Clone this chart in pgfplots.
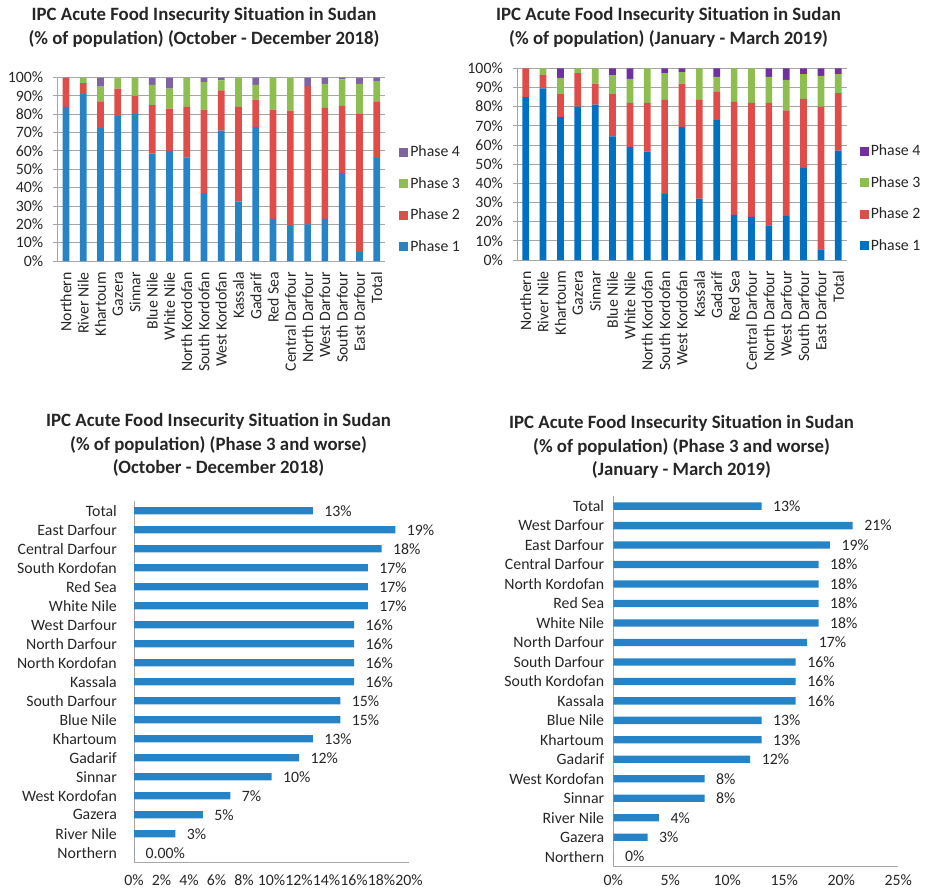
\documentclass[border=0pt]{standalone}
\usepackage{fontspec}
\setmainfont{Carlito}
\usepackage{pgfplots}
\pgfplotsset{compat=1.18}

\definecolor{pone}{HTML}{2683C6}
\definecolor{ponedark}{HTML}{0070C0}
\definecolor{ptwo}{HTML}{DF4D4B}
\definecolor{pthree}{HTML}{8FBE50}
\definecolor{pfour}{HTML}{8064A2}
\definecolor{pfourdark}{HTML}{7030A0}
\definecolor{gridgray}{HTML}{A6A6A6}
\definecolor{txt}{HTML}{262626}

\newcommand{\lblfont}{\fontsize{15.8bp}{19bp}\selectfont}
\newcommand{\ttlfont}{\bfseries\fontsize{18.8bp}{23.3bp}\selectfont}

\pgfplotsset{
  stackaxis/.style={
    anchor=south west, scale only axis,
    ybar stacked, bar width=6.7bp,
    xmin=-0.5, xmax=18.5, ymin=0, ymax=100, enlargelimits=false,
    xtick={0,...,18},
    xticklabels={Northern,River Nile,Khartoum,Gazera,Sinnar,Blue Nile,White Nile,North Kordofan,South Kordofan,West Kordofan,Kassala,Gadarif,Red Sea,Central Darfour,North Darfour,West Darfour,South Darfour,East Darfour,Total},
    ytick={0,10,...,100},
    yticklabels={0\%,10\%,20\%,30\%,40\%,50\%,60\%,70\%,80\%,90\%,100\%},
    axis lines*=left,
    axis line style={gridgray, line width=0.9bp},
    ymajorgrids, grid style={gridgray, line width=0.9bp},
    tick align=outside, major tick length=4bp,
    xtick style={draw=none}, ytick style={gridgray, line width=0.9bp},
    tick label style={font=\lblfont, text=txt},
    xticklabel style={rotate=90, anchor=east, inner sep=0pt},
    yticklabel style={inner sep=0pt},
    xticklabel shift=7bp, yticklabel shift=10bp,
    reverse legend, legend cell align=left,
    legend style={draw=none, fill=none, font=\lblfont, text=txt, row sep=15bp, anchor=west},
    legend image code/.code={\fill[##1] (0bp,-4.5bp) rectangle (9bp,4.5bp);},
  },
  hbaraxis/.style={
    anchor=south west, scale only axis,
    xbar, bar width=7.3bp,
    ymin=-0.5, ymax=18.5, xmin=0, enlargelimits=false,
    ytick={0,...,18},
    axis lines*=left,
    axis line style={gridgray, line width=1bp},
    major tick length=0pt, tick style={draw=none},
    tick label style={font=\lblfont, text=txt},
    yticklabel style={inner sep=0pt}, xticklabel style={inner sep=0pt},
    point meta=explicit symbolic,
    nodes near coords,
    every node near coord/.append style={font=\lblfont, text=txt, anchor=west, inner sep=0pt, xshift=11.5bp},
  },
}

\begin{document}
\begin{tikzpicture}
\useasboundingbox (0,0) rectangle (925bp,-888bp);

% top left: October - December 2018
\begin{axis}[stackaxis, at={(57.3bp,-261bp)}, width=328bp, height=183.5bp,
  legend style={at={(1.033,0.336)}}]
\addplot[fill=pone, draw=none] coordinates {(0,84) (1,91) (2,72.5) (3,79) (4,80) (5,58.5) (6,60) (7,56.5) (8,37) (9,71) (10,32.5) (11,73) (12,23) (13,19) (14,20) (15,23) (16,48) (17,5) (18,56)};
\addplot[fill=ptwo, draw=none] coordinates {(0,16) (1,6) (2,14.5) (3,15) (4,10) (5,26.5) (6,23) (7,27.5) (8,45.5) (9,22) (10,51.5) (11,15) (12,59.5) (13,63) (14,75.5) (15,60.5) (16,36.5) (17,75.5) (18,31)};
\addplot[fill=pthree, draw=none] coordinates {(0,0) (1,3) (2,8) (3,6) (4,10) (5,11) (6,11) (7,16) (8,15) (9,5.5) (10,16) (11,8) (12,17.5) (13,18) (14,0) (15,13) (16,14.5) (17,16) (18,11)};
\addplot[fill=pfour, draw=none] coordinates {(0,0) (1,0) (2,5) (3,0) (4,0) (5,4) (6,6) (7,0) (8,2.5) (9,1.5) (10,0) (11,4) (12,0) (13,0) (14,4.5) (15,3.5) (16,1) (17,3.5) (18,2)};
\legend{Phase 1,Phase 2,Phase 3,Phase 4}
\end{axis}

% top right: January - March 2019
\begin{axis}[stackaxis, at={(517bp,-260bp)}, width=330bp, height=191.7bp,
  legend style={at={(1.029,0.322)}}]
\addplot[fill=ponedark, draw=none] coordinates {(0,85) (1,89.5) (2,74.5) (3,80) (4,81) (5,64.5) (6,59) (7,56.5) (8,34.5) (9,69.5) (10,32) (11,73) (12,23.5) (13,22.5) (14,18) (15,23) (16,48) (17,5.5) (18,57)};
\addplot[fill=ptwo, draw=none] coordinates {(0,15) (1,7) (2,12) (3,17.5) (4,11) (5,22) (6,23) (7,25.5) (8,49) (9,22.5) (10,51.5) (11,15) (12,59) (13,59.5) (14,64) (15,55) (16,36) (17,74.5) (18,30)};
\addplot[fill=pthree, draw=none] coordinates {(0,0) (1,3.5) (2,8.5) (3,2.5) (4,8) (5,10) (6,12.5) (7,18) (8,14) (9,6) (10,16.5) (11,7.5) (12,17.5) (13,18) (14,13.5) (15,16) (16,13) (17,16) (18,10)};
\addplot[fill=pfourdark, draw=none] coordinates {(0,0) (1,0) (2,5) (3,0) (4,0) (5,3.5) (6,5.5) (7,0) (8,2.5) (9,2) (10,0) (11,4.5) (12,0) (13,0) (14,4.5) (15,6) (16,3) (17,4) (18,3)};
\legend{Phase 1,Phase 2,Phase 3,Phase 4}
\end{axis}

% bottom left: phase 3+, October - December 2018
\begin{axis}[hbaraxis, at={(134bp,-862.2bp)}, width=275bp, height=361bp,
  xmax=20, xtick={0,2,...,20},
  xticklabels={0\%,2\%,4\%,6\%,8\%,10\%,12\%,14\%,16\%,18\%,20\%},
  yticklabels={Northern,River Nile,Gazera,West Kordofan,Sinnar,Gadarif,Khartoum,Blue Nile,South Darfour,Kassala,North Kordofan,North Darfour,West Darfour,White Nile,Red Sea,South Kordofan,Central Darfour,East Darfour,Total},
  yticklabel shift=17bp, xticklabel shift=12bp]
\addplot[fill=pone, draw=none] coordinates {
  (0,0) [0.00\%] (3,1) [3\%] (5,2) [5\%] (7,3) [7\%] (10,4) [10\%] (12,5) [12\%]
  (13,6) [13\%] (15,7) [15\%] (15,8) [15\%] (16,9) [16\%] (16,10) [16\%]
  (16,11) [16\%] (16,12) [16\%] (17,13) [17\%] (17,14) [17\%] (17,15) [17\%]
  (18,16) [18\%] (19,17) [19\%] (13,18) [13\%]};
\end{axis}

% bottom right: phase 3+, January - March 2019
\begin{axis}[hbaraxis, at={(613.3bp,-866.4bp)}, width=285bp, height=370bp,
  xmax=25, xtick={0,5,...,25},
  xticklabels={0\%,5\%,10\%,15\%,20\%,25\%},
  yticklabels={Northern,Gazera,River Nile,Sinnar,West Kordofan,Gadarif,Khartoum,Blue Nile,Kassala,South Kordofan,South Darfour,North Darfour,White Nile,Red Sea,North Kordofan,Central Darfour,East Darfour,West Darfour,Total},
  yticklabel shift=9bp, xticklabel shift=8bp]
\addplot[fill=pone, draw=none] coordinates {
  (0,0) [0\%] (3,1) [3\%] (4,2) [4\%] (8,3) [8\%] (8,4) [8\%] (12,5) [12\%]
  (13,6) [13\%] (13,7) [13\%] (16,8) [16\%] (16,9) [16\%] (16,10) [16\%]
  (17,11) [17\%] (18,12) [18\%] (18,13) [18\%] (18,14) [18\%] (18,15) [18\%]
  (19,16) [19\%] (21,17) [21\%] (13,18) [13\%]};
\end{axis}

% titles
\node[align=center, font=\ttlfont, text=txt] at (204bp,-27.5bp)
  {IPC Acute Food Insecurity Situation in Sudan\\(\% of population) (October - December 2018)};
\node[align=center, font=\ttlfont, text=txt] at (668.5bp,-27.5bp)
  {IPC Acute Food Insecurity Situation in Sudan\\(\% of population) (January - March 2019)};
\node[align=center, font=\ttlfont, text=txt] at (218.5bp,-445bp)
  {IPC Acute Food Insecurity Situation in Sudan\\(\% of population) (Phase 3 and worse)\\(October - December 2018)};
\node[align=center, font=\ttlfont, text=txt] at (681.5bp,-447bp)
  {IPC Acute Food Insecurity Situation in Sudan\\(\% of population) (Phase 3 and worse)\\(January - March 2019)};
\end{tikzpicture}
\end{document}
